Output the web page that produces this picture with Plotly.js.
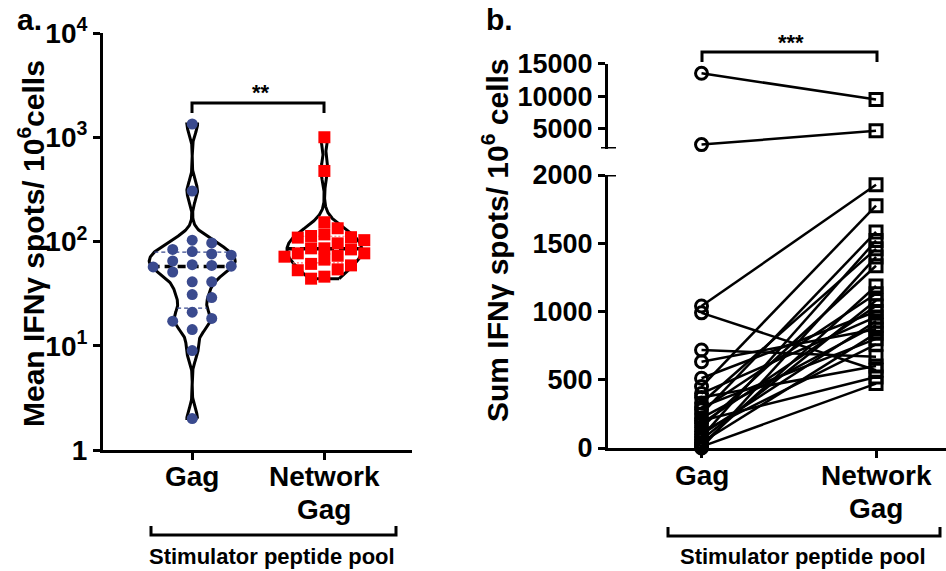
<!DOCTYPE html>
<html><head><meta charset="utf-8">
<script src="https://cdn.plot.ly/plotly-3.0.1.min.js"></script>
<style>html,body{margin:0;padding:0;background:#fff}#chart{width:946px;height:571px}</style>
</head><body><div id="chart"></div>
<script>
// ---------------- data ----------------
const categories = ['Gag', 'Network Gag'];
const xTickText = ['Gag', 'Network<br>Gag'];
const yTickValsA = [1, 10, 100, 1000, 10000];
const yTickTextA = ['1', '10<sup>1</sup>', '10<sup>2</sup>', '10<sup>3</sup>', '10<sup>4</sup>'];
const meanGag = [1340, 305, 103, 97, 84, 80, 76, 74, 65, 58, 59, 57, 60, 51, 41, 41, 31, 29, 21, 18.3, 17.2, 14.3, 9, 2];
const meanNetworkGag = [1000, 475, 153, 134, 117, 113, 110, 109, 103, 96, 86, 86, 84, 77, 77, 73, 71.5, 67, 61, 59, 54, 53, 46, 44];
const sumGag = [13500, 2600, 1040, 990, 718, 632, 511, 450, 400, 370, 330, 300, 280, 250, 220, 200, 180, 150, 120, 100, 80, 60, 40, 25, 10, 0];
const sumNetworkGag = [9500, 4700, 1928, 570, 669, 870, 1000, 1775, 960, 600, 1459, 800, 1130, 1583, 900, 520, 1040, 1335, 760, 930, 1520, 1080, 840, 1187, 472, 1400];
const yTickValsLow = [0, 500, 1000, 1500, 2000];
const yTickValsHigh = [5000, 10000, 15000];
const yTickTextHigh = ['5000', '10000', '15000'];
const breakValue = 2000;
const significance = ['**', '***'];
const panelLabels = ['a.', 'b.'];
const yTitleA = 'Mean IFNγ spots/ 10<sup>6</sup>cells';
const yTitleB = 'Sum IFNγ spots/ 10<sup>6</sup> cells';
const groupLabel = 'Stimulator peptide pool';

// ---------------- geometry / style ----------------
const W = 946, H = 571;
const px = x => x / W, py = y => 1 - y / H;
const FONT = 'Liberation Sans, Arial, sans-serif';
const BLUE = '#3A4A8E', RED = '#FF0000';

const aDomX = [px(103), px(412)], aRangeX = [-0.675, 1.663];
const aDomY = [py(450), py(33)];
const aPxPerDecade = (aDomY[1] - aDomY[0]) * H / 4;
const aPxPerUnitX = (aDomX[1] - aDomX[0]) * W / (aRangeX[1] - aRangeX[0]);

const bDomX = [px(608), 1], bRangeX = [-0.536, 1.401];

// ---------------- helpers ----------------
function quantile(vals, p) { // (n+1) method
  const s = vals.slice().sort((a, b) => a - b), n = s.length;
  const pos = (n + 1) * p - 1, lo = Math.floor(pos), fr = pos - lo;
  if (lo < 0) return s[0];
  if (lo >= n - 1) return s[n - 1];
  return s[lo] + fr * (s[lo + 1] - s[lo]);
}
function makeKde(vals, bw) {
  const ls = vals.map(v => Math.log10(v));
  return t => ls.reduce((s, l) => s + Math.exp(-0.5 * ((t - l) / bw) ** 2), 0);
}
function violinTraces(vals, center, maxHalfPx, bw, qColor, qDash) {
  const ls = vals.map(v => Math.log10(v));
  const lo = Math.min(...ls), hi = Math.max(...ls);
  const f = makeKde(vals, bw);
  const N = 400, ts = [], ds = [];
  for (let i = 0; i <= N; i++) { const t = lo + (hi - lo) * i / N; ts.push(t); ds.push(f(t)); }
  const dmax = Math.max(...ds);
  const maxHalf = maxHalfPx / aPxPerUnitX;
  const half = t => maxHalf * f(t) / dmax;
  const xs = [], ys = [];
  ts.forEach((t, i) => { xs.push(center + maxHalf * ds[i] / dmax); ys.push(Math.pow(10, t)); });
  for (let i = ts.length - 1; i >= 0; i--) { xs.push(center - maxHalf * ds[i] / dmax); ys.push(Math.pow(10, ts[i])); }
  xs.push(xs[0]); ys.push(ys[0]);
  const out = [{ x: xs, y: ys, xaxis: 'x', yaxis: 'y', mode: 'lines', line: { color: '#000', width: 3 }, hoverinfo: 'skip', showlegend: false }];
  const q = [quantile(vals, 0.25), quantile(vals, 0.75)];
  q.forEach(v => {
    const w = half(Math.log10(v));
    out.push({ x: [center - w, center + w], y: [v, v], xaxis: 'x', yaxis: 'y', mode: 'lines', line: { color: qColor, width: 1.2, dash: qDash }, hoverinfo: 'skip', showlegend: false });
  });
  const med = quantile(vals, 0.5), wm = half(Math.log10(med));
  out.push({ x: [center - wm, center + wm], y: [med, med], xaxis: 'x', yaxis: 'y', mode: 'lines', line: { color: '#000', width: 3.5, dash: '8px,5px' }, hoverinfo: 'skip', showlegend: false });
  return out;
}
function swarm(vals, center, colStepPx, minSep, maxCol) {
  const order = vals.map((v, i) => i).sort((a, b) => vals[b] - vals[a]);
  const placed = [], xs = new Array(vals.length);
  const step = colStepPx / aPxPerUnitX;
  for (const i of order) {
    const yp = Math.log10(vals[i]) * aPxPerDecade;
    let best = null, bestD = -1;
    for (let k = 0; k <= 2 * maxCol; k++) {
      const c = k === 0 ? 0 : (k % 2 ? (k + 1) / 2 : -k / 2);
      const same = placed.filter(p => p.c === c);
      const d = same.length ? Math.min(...same.map(p => Math.abs(p.y - yp))) : 1e9;
      if (d >= minSep) { best = c; break; }
      if (d > bestD) { bestD = d; best = c; }
    }
    placed.push({ c: best, y: yp }); xs[i] = center + best * step;
  }
  return xs;
}

// ---------------- panel a ----------------
const traces = [];
traces.push(...violinTraces(meanGag, 0, 43, 0.09, BLUE, '4px,3px'));
traces.push(...violinTraces(meanNetworkGag, 1, 37.5, 0.09, '#FF7070', '2px,2px'));
traces.push({ x: swarm(meanGag, 0, 19.5, 11, 2), y: meanGag, xaxis: 'x', yaxis: 'y', mode: 'markers', cliponaxis: false,
  marker: { symbol: 'circle', size: 11, color: BLUE }, name: categories[0], showlegend: false });
traces.push({ x: swarm(meanNetworkGag, 1, 13.3, 12, 3), y: meanNetworkGag, xaxis: 'x', yaxis: 'y', mode: 'markers', cliponaxis: false,
  marker: { symbol: 'square', size: 12, color: RED }, name: categories[1], showlegend: false });

// ---------------- panel b ----------------
const lowL = { x: [], y: [] }, highL = { x: [], y: [] };
sumGag.forEach((g, i) => {
  const n = sumNetworkGag[i];
  const tgt = (g > breakValue && n > breakValue) ? highL : lowL;
  tgt.x.push(0, 1, null); tgt.y.push(g, n, null);
});
[[lowL, 'y2'], [highL, 'y3']].forEach(([L, ya]) => traces.push({ x: L.x, y: L.y, xaxis: 'x2', yaxis: ya, mode: 'lines', cliponaxis: false,
  line: { color: '#000', width: 2.5 }, hoverinfo: 'skip', showlegend: false }));
function markerTrace(vals, xv, sym, ya, keep) {
  const ys = vals.filter(keep);
  return { x: ys.map(() => xv), y: ys, xaxis: 'x2', yaxis: ya, mode: 'markers', cliponaxis: false,
    marker: { symbol: sym, size: 12, color: '#000', line: { width: 3, color: '#000' } }, showlegend: false };
}
traces.push(markerTrace(sumGag, 0, 'circle-open', 'y2', v => v <= breakValue));
traces.push(markerTrace(sumGag, 0, 'circle-open', 'y3', v => v > breakValue));
traces.push(markerTrace(sumNetworkGag, 1, 'square-open', 'y2', v => v <= breakValue));
traces.push(markerTrace(sumNetworkGag, 1, 'square-open', 'y3', v => v > breakValue));

// ---------------- layout ----------------
const axisBase = { showline: true, linewidth: 3, linecolor: '#000', ticks: 'outside', ticklen: 7, tickwidth: 3, tickcolor: '#000',
  showgrid: false, zeroline: false, fixedrange: true };
const tickFont = s => ({ family: FONT, size: s, color: '#000', weight: 'bold' });

const shapes = [];
const L3 = { color: '#000', width: 3 };
// significance brackets
shapes.push({ type: 'path', xref: 'paper', yref: 'paper', line: L3,
  path: `M${px(192)},${py(113)} L${px(192)},${py(103)} L${px(324)},${py(103)} L${px(324)},${py(113)}` });
shapes.push({ type: 'path', xref: 'paper', yref: 'paper', line: L3,
  path: `M${px(702)},${py(62)} L${px(702)},${py(52)} L${px(877)},${py(52)} L${px(877)},${py(62)}` });
// group brackets
[[151, 396, 535, 526], [668, 940, 536, 527]].forEach(([a, b, yb, yt]) => {
  shapes.push({ type: 'path', xref: 'paper', yref: 'paper', line: L3,
    path: `M${px(a)},${py(yt)} L${px(a)},${py(yb)} L${px(b)},${py(yb)} L${px(b)},${py(yt)}` });
});
// axis break caps
shapes.push({ type: 'line', xref: 'paper', yref: 'y3', x0: px(601), x1: px(616), y0: breakValue, y1: breakValue, line: L3 });
shapes.push({ type: 'line', xref: 'paper', yref: 'y2', x0: px(608), x1: px(616), y0: breakValue, y1: breakValue, line: L3 });

const ann = (x, y, text, size, extra) => Object.assign({ xref: 'paper', yref: 'paper', x: px(x), y: py(y), text, showarrow: false,
  xanchor: 'center', yanchor: 'middle', font: { family: FONT, size, color: '#000', weight: 'bold' } }, extra || {});
const annotations = [
  ann(29, 19, panelLabels[0], 30),
  ann(499, 19, panelLabels[1], 30),
  ann(261, 93, significance[0], 22),
  ann(791, 42, significance[1], 22),
  ann(31, 244, yTitleA, 30, { textangle: -90 }),
  ann(495, 240, yTitleB, 30, { textangle: -90 }),
  ann(272, 556, groupLabel, 22),
  ann(803, 556, groupLabel, 22)
];
// category labels under each x axis (one annotation per text line)
[['x', 476], ['x2', 475]].forEach(([xr, firstLine]) => {
  xTickText.forEach((t, i) => t.split('<br>').forEach((line, j) => annotations.push({ xref: xr, yref: 'paper', x: i, y: py(firstLine + 33 * j),
    text: line, showarrow: false, xanchor: 'center', yanchor: 'middle', font: { family: FONT, size: 28, color: '#000', weight: 'bold' } })));
});

const layout = {
  width: W, height: H, margin: { l: 0, r: 0, t: 0, b: 0 }, paper_bgcolor: '#fff', plot_bgcolor: '#fff', showlegend: false,
  xaxis: Object.assign({}, axisBase, { domain: aDomX, range: aRangeX, anchor: 'y', tickvals: [0, 1], showticklabels: false }),
  yaxis: Object.assign({}, axisBase, { type: 'log', domain: aDomY, range: [0, 4], anchor: 'x', tickvals: yTickValsA, ticktext: yTickTextA, tickfont: tickFont(28) }),
  xaxis2: Object.assign({}, axisBase, { domain: bDomX, range: bRangeX, anchor: 'y2', tickvals: [0, 1], showticklabels: false }),
  yaxis2: Object.assign({}, axisBase, { domain: [py(448), py(175)], range: [0, 2000], anchor: 'x2', tickvals: yTickValsLow, tickfont: tickFont(27) }),
  yaxis3: Object.assign({}, axisBase, { domain: [py(148.5), py(63.5)], range: [2000, 15000], anchor: 'x2', tickvals: yTickValsHigh, ticktext: yTickTextHigh, tickfont: tickFont(27) }),
  shapes, annotations
};
Plotly.newPlot('chart', traces, layout, { staticPlot: true, displayModeBar: false });
</script>
</body></html>
